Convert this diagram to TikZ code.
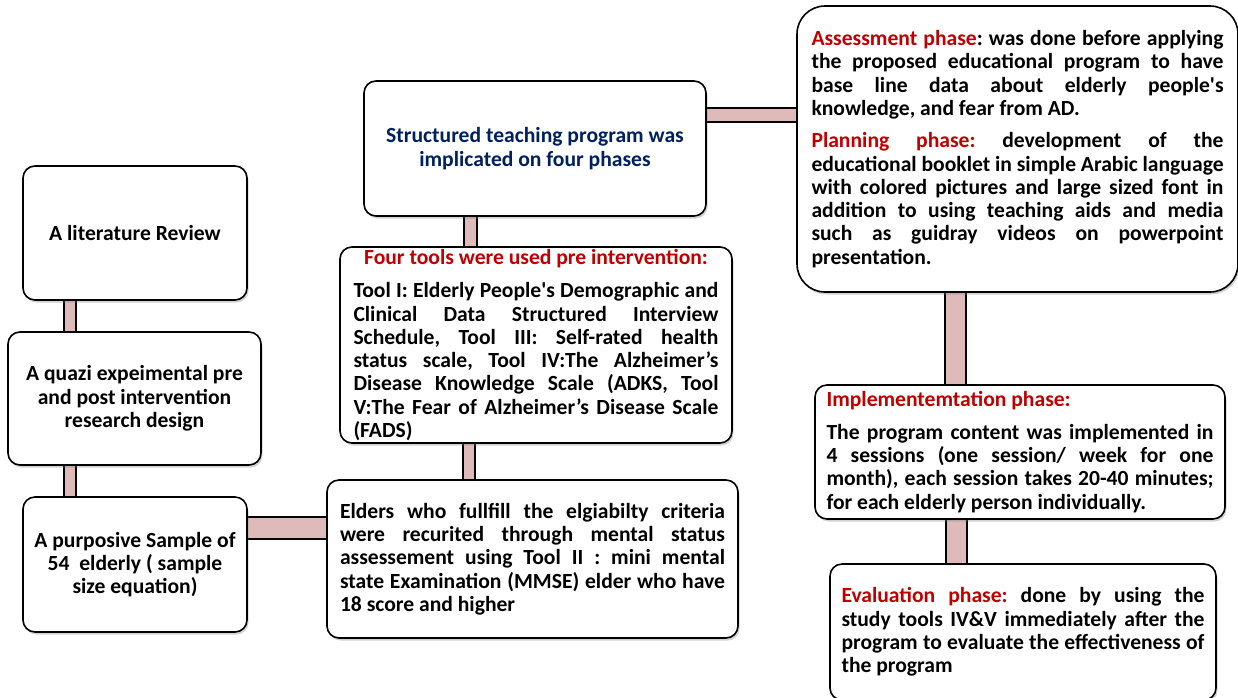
\documentclass[tikz,border=0pt]{standalone}
\usepackage{fontspec}
\setmainfont{Carlito}
\usetikzlibrary{shadows}
\pgfdeclarelayer{background}
\pgfsetlayers{background,main}
\definecolor{barpink}{HTML}{DFBABA}
\definecolor{navyc}{HTML}{002060}
\definecolor{redc}{HTML}{C00000}
\setlength{\parindent}{0pt}
\setlength{\parskip}{0pt}
\frenchspacing
\hyphenpenalty=10000
\exhyphenpenalty=10000
\tolerance=10000
\newcommand{\nsp}{\spaceskip=0pt\xspaceskip=0pt\relax}
\newcommand{\justline}[1]{\makebox[\hsize][s]{\nsp #1}\par}
\newcommand{\lastline}[1]{\makebox[\hsize][l]{\nsp #1}\par}
\newcommand{\sq}{\textquotesingle}
\tikzset{
  box/.style={draw=black, line width=1.6pt, fill=white, rounded corners=12pt,
    inner sep=0pt, font=\fontsize{21.6}{23.3}\selectfont\bfseries,
    drop shadow={shadow xshift=1.5pt, shadow yshift=-2.5pt, opacity=0.35}},
  pipe/.style={draw=black, line width=2pt, double=barpink, double distance=#1},
}
\begin{document}
\begin{tikzpicture}[x=1pt,y=-1pt]
\useasboundingbox (0,0) rectangle (1238,697);

% left column
\node[box, minimum width=224, minimum height=134, align=center] (lit) at (135,233) {\nsp A literature Review};
\node[box, minimum width=253, minimum height=133, align=center] (quazi) at (134.5,398.5)
  {\nsp A quazi expeimental pre\\and post intervention\\research design};
\node[box, minimum width=224, minimum height=135, align=center] (sample) at (135,564.5)
  {\nsp A purposive Sample of\\54\ \ elderly ( sample\\size equation)};

% middle column
\node[box, minimum width=342, minimum height=135, align=center, text=navyc] (struct) at (535,148.5)
  {\nsp Structured teaching program was\\implicated on four phases};
\node[box, minimum width=392, minimum height=196, text width=365pt] (tools) at (536,345)
  {\makebox[\hsize][c]{\nsp\color{redc}Four tools were used pre intervention:}\par\vspace{10pt}%
   \justline{Tool I: Elderly People\sq s Demographic and}%
   \justline{Clinical Data Structured Interview}%
   \justline{Schedule, Tool III: Self-rated health}%
   \justline{status scale, Tool IV:The Alzheimer’s}%
   \justline{Disease Knowledge Scale (ADKS, Tool}%
   \justline{V:The Fear of Alzheimer’s Disease Scale}%
   \lastline{(FADS)}};
\node[box, minimum width=411, minimum height=158, text width=385pt] (elders) at (532.5,559)
  {\justline{Elders who fullfill the elgiabilty criteria}%
   \justline{were recurited through mental status}%
   \justline{assessement using Tool II : mini mental}%
   \justline{state Examination (MMSE) elder who have}%
   \lastline{18 score and higher}};

% right column
\node[box, rounded corners=28pt, minimum width=441, minimum height=286, text width=412pt] (assess) at (1017.5,149)
  {\justline{{\color{redc}Assessment phase}: was done before applying}%
   \justline{the proposed educational program to have}%
   \justline{base line data about elderly people\sq s}%
   \lastline{knowledge, and fear from AD.}\vspace{9pt}%
   \justline{{\color{redc}Planning phase:} development of the}%
   \justline{educational booklet in simple Arabic language}%
   \justline{with colored pictures and large sized font in}%
   \justline{addition to using teaching aids and media}%
   \justline{such as guidray videos on powerpoint}%
   \lastline{presentation.}};
\node[box, minimum width=410, minimum height=134, text width=387pt] (impl) at (1020,452)
  {\lastline{\color{redc}Implementemtation phase:}\vspace{9pt}%
   \justline{The program content was implemented in}%
   \justline{4 sessions (one session/ week for one}%
   \justline{month), each session takes 20-40 minutes;}%
   \lastline{for each elderly person individually.}};
\node[box, minimum width=386, minimum height=136, text width=363pt] (eval) at (1023,632)
  {\justline{{\color{redc}Evaluation phase:} done by using the}%
   \justline{study tools IV\&V immediately after the}%
   \justline{program to evaluate the effectiveness of}%
   \lastline{the program}};

% connectors
\coordinate (xa) at (70,0);
\coordinate (xb) at (470,0);
\coordinate (xc) at (469,0);
\coordinate (xd) at (955,0);
\coordinate (xe) at (956.5,0);
\coordinate (ya) at (0,527.5);
\coordinate (yb) at (0,115);
\begin{pgfonlayer}{background}
\fill[white] (0,0) rectangle (1238,697);
\draw[pipe=10pt] (lit.south -| xa) -- (quazi.north -| xa);
\draw[pipe=10pt] (quazi.south -| xa) -- (sample.north -| xa);
\draw[pipe=20pt] (sample.east |- ya) -- (elders.west |- ya);
\draw[pipe=11pt] (struct.south -| xb) -- (tools.north -| xb);
\draw[pipe=10pt] (tools.south -| xc) -- (elders.north -| xc);
\draw[pipe=12pt] (struct.east |- yb) -- (assess.west |- yb);
\draw[pipe=19pt] (assess.south -| xd) -- (impl.north -| xd);
\draw[pipe=19pt] (impl.south -| xe) -- (eval.north -| xe);
\end{pgfonlayer}
\end{tikzpicture}
\end{document}
